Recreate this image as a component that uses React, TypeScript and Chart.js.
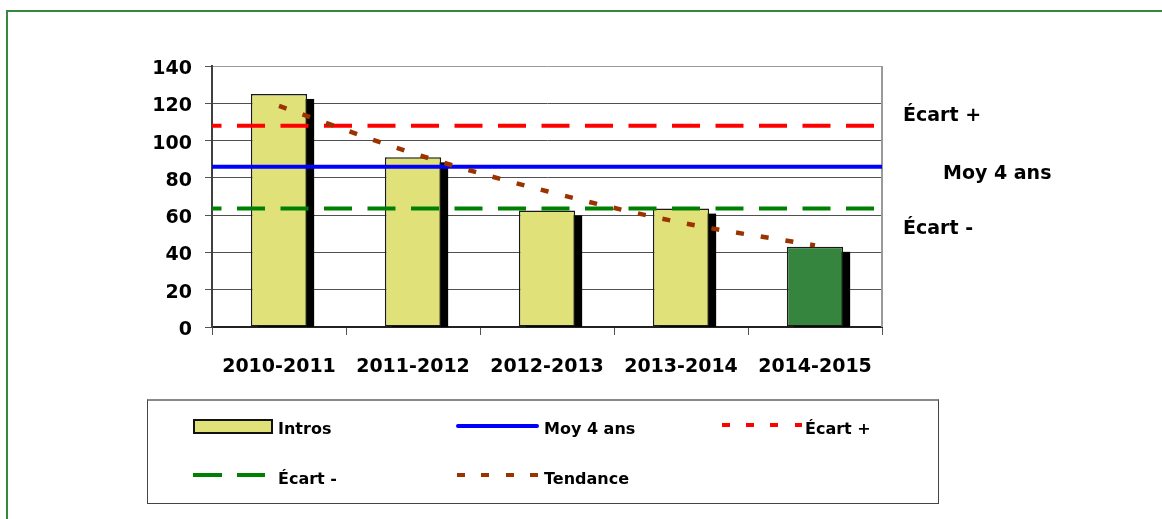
import React, { useEffect, useRef } from "react";
import { Chart, registerables } from "chart.js";

Chart.register(...registerables);

// ---- data ----
const categories = ["2010-2011", "2011-2012", "2012-2013", "2013-2014", "2014-2015"];
const intros = [125, 91, 62.5, 63.5, 43];
const tendance = [118.6, 93.2, 72.8, 56.0, 43.8];
const moy4ans = 86;
const ecartPlus = 108;
const ecartMoins = 63.5;
const yMin = 0;
const yMax = 140;
const yStep = 20;

const FONT = "'DejaVu Sans', sans-serif";
const YELLOW = "#E1E17A";
const GREEN_BAR = "#35853F";
const BROWN = "#9A3300";

const shadowPlugin = {
  id: "barShadow",
  beforeDatasetsDraw(chart: any) {
    const { ctx, chartArea } = chart;
    const meta = chart.getDatasetMeta(0);
    ctx.save();
    ctx.beginPath();
    ctx.rect(chartArea.left, chartArea.top, chartArea.right - chartArea.left, chartArea.bottom - chartArea.top);
    ctx.clip();
    ctx.fillStyle = "#000";
    meta.data.forEach((bar: any) => {
      const p = bar.getProps(["x", "y", "base", "width"], true);
      ctx.fillRect(p.x - p.width / 2 + 7, p.y + 5, p.width, p.base - p.y);
    });
    ctx.restore();
    // right border of the plot
    ctx.save();
    ctx.strokeStyle = "#9a9a9a";
    ctx.lineWidth = 2;
    ctx.beginPath();
    ctx.moveTo(chartArea.right, chartArea.top);
    ctx.lineTo(chartArea.right, chartArea.bottom);
    ctx.stroke();
    ctx.restore();
  },
};

function hLine(v: number) {
  return [
    { x: 0, y: v },
    { x: categories.length, y: v },
  ];
}

export default function App() {
  const ref = useRef<HTMLCanvasElement | null>(null);

  useEffect(() => {
    const canvas = ref.current;
    if (!canvas) return;
    const chart = new Chart(canvas, {
      type: "bar",
      data: {
        labels: categories,
        datasets: [
          {
            type: "bar",
            label: "Intros",
            data: intros,
            backgroundColor: intros.map((_, i) => (i === intros.length - 1 ? GREEN_BAR : YELLOW)),
            borderColor: "#1a1a1a",
            borderWidth: 1.5,
            borderSkipped: false,
            barPercentage: 0.42,
            categoryPercentage: 1,
            grouped: false,
            order: 10,
          } as any,
          {
            type: "line",
            label: "Moy 4 ans",
            data: hLine(moy4ans),
            xAxisID: "xl",
            borderColor: "#0000FF",
            borderWidth: 4,
            pointRadius: 0,
            order: 3,
          } as any,
          {
            type: "line",
            label: "Écart +",
            data: hLine(ecartPlus),
            xAxisID: "xl",
            borderColor: "#FF0000",
            borderWidth: 4,
            borderDash: [28, 15.5],
            borderDashOffset: 18.5,
            pointRadius: 0,
            order: 2,
          } as any,
          {
            type: "line",
            label: "Écart -",
            data: hLine(ecartMoins),
            xAxisID: "xl",
            borderColor: "#008000",
            borderWidth: 4,
            borderDash: [28, 15.5],
            borderDashOffset: 18.5,
            pointRadius: 0,
            order: 2,
          } as any,
          {
            type: "line",
            label: "Tendance",
            data: tendance,
            borderColor: BROWN,
            borderWidth: 4.5,
            borderDash: [8, 17],
            cubicInterpolationMode: "monotone",
            pointRadius: 0,
            order: 1,
          } as any,
        ],
      },
      options: {
        responsive: false,
        animation: false,
        devicePixelRatio: 1,
        layout: { padding: { left: 0, top: 66, right: 280, bottom: 0 } },
        plugins: {
          legend: { display: false },
          tooltip: { enabled: false },
        },
        scales: {
          x: {
            type: "category",
            offset: true,
            afterFit: (s: any) => {
              s.height = 192;
            },
            grid: {
              offset: true,
              drawOnChartArea: false,
              drawTicks: true,
              tickLength: 8,
              tickColor: "#555",
            },
            border: { color: "#222", width: 2 },
            ticks: {
              color: "#000",
              padding: 21,
              maxRotation: 0,
              font: { family: FONT, size: 19, weight: "bold" },
            },
          },
          xl: {
            type: "linear",
            display: false,
            offset: false,
            grid: { offset: false },
            min: 0,
            max: categories.length,
          },
          y: {
            min: yMin,
            max: yMax,
            afterFit: (s: any) => {
              s.width = 212;
            },
            grid: {
              color: (c: any) => (c.tick && c.tick.value === yMax ? "#9a9a9a" : "#505050"),
              lineWidth: 1,
              drawTicks: true,
              tickLength: 7,
              tickColor: "#505050",
            },
            border: { color: "#404040", width: 2 },
            ticks: {
              stepSize: yStep,
              color: "#000",
              padding: 13,
              labelOffset: 3,
              font: { family: FONT, size: 19, weight: "bold" },
            },
          },
        },
      } as any,
      plugins: [shadowPlugin],
    });
    return () => chart.destroy();
  }, []);

  const textBase: React.CSSProperties = {
    position: "absolute",
    fontFamily: FONT,
    fontWeight: "bold",
    color: "#000",
    whiteSpace: "nowrap",
  };
  const right: React.CSSProperties = { ...textBase, fontSize: 19, lineHeight: "19px" };
  const leg: React.CSSProperties = { ...textBase, fontSize: 16, lineHeight: "16px" };

  const dashes = (color: string, dash: number, period: number): React.CSSProperties => ({
    background: `repeating-linear-gradient(to right, ${color} 0px, ${color} ${dash}px, transparent ${dash}px, transparent ${period}px)`,
  });

  return (
    <div
      style={{
        position: "fixed",
        left: 0,
        top: 0,
        width: 1162,
        height: 519,
        overflow: "hidden",
        background: "#fff",
      }}
    >
      <div style={{ position: "absolute", left: 6, top: 10, width: 1156, height: 2, background: "#37883F" }} />
      <div style={{ position: "absolute", left: 6, top: 10, width: 2, height: 509, background: "#37883F" }} />
      <canvas ref={ref} width={1162} height={519} style={{ position: "absolute", left: 0, top: 0, width: 1162, height: 519 }} />

      <div style={{ ...right, left: 903, top: 104.5 }}>Écart +</div>
      <div style={{ ...right, left: 943, top: 162.5 }}>Moy 4 ans</div>
      <div style={{ ...right, left: 903, top: 218 }}>Écart -</div>

      <div
        style={{
          position: "absolute",
          left: 147,
          top: 399,
          width: 792,
          height: 105,
          boxSizing: "border-box",
          border: "1px solid #444",
          borderTop: "2px solid #8a8a8a",
        }}
      />
      {/* row 1 */}
      <div
        style={{
          position: "absolute",
          left: 193,
          top: 419,
          width: 80,
          height: 15,
          boxSizing: "border-box",
          background: YELLOW,
          border: "2px solid #111",
        }}
      />
      <div style={{ ...leg, left: 278, top: 421 }}>Intros</div>
      <div style={{ position: "absolute", left: 456, top: 424, width: 83, height: 4, background: "#0000FF", borderRadius: 2 }} />
      <div style={{ ...leg, left: 544, top: 421 }}>Moy 4 ans</div>
      <div style={{ position: "absolute", left: 722, top: 423, width: 80, height: 4, ...dashes("#FF0000", 8, 24.2) }} />
      <div style={{ ...leg, left: 805, top: 421 }}>Écart +</div>
      {/* row 2 */}
      <div style={{ position: "absolute", left: 193, top: 473, width: 72, height: 4, ...dashes("#008000", 29, 44) }} />
      <div style={{ ...leg, left: 278, top: 471 }}>Écart -</div>
      <div style={{ position: "absolute", left: 457, top: 473, width: 81, height: 4, ...dashes(BROWN, 8, 24.4) }} />
      <div style={{ ...leg, left: 544, top: 471 }}>Tendance</div>
    </div>
  );
}
